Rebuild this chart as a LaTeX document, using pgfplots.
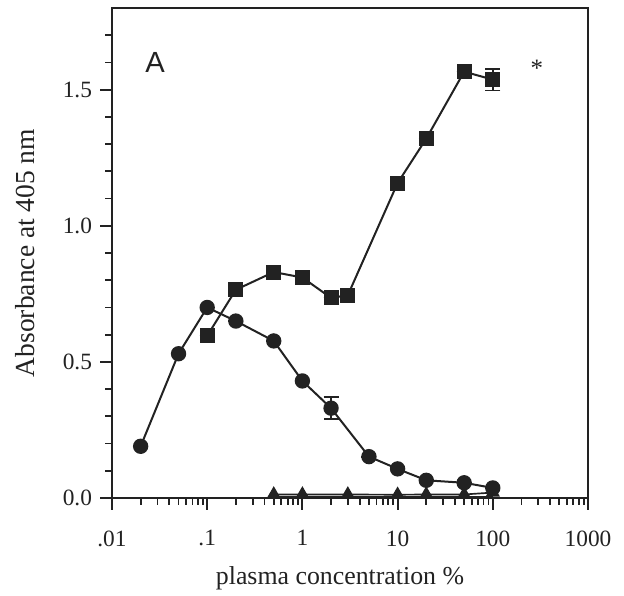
\documentclass[border=0pt]{standalone}
\usepackage{pgfplots}
\pgfplotsset{compat=1.18}
\usepackage{fontspec}
\setmainfont{Liberation Serif}
\newfontfamily\panelfont{Liberation Sans}
\definecolor{ink}{HTML}{222222}

\begin{document}
\begin{tikzpicture}
\begin{axis}[
    scale only axis,
    width=285.6pt, height=294pt,
    xmode=log,
    xmin=0.01, xmax=1000,
    ymin=0, ymax=1.8,
    xtick={0.01,0.1,1,10,100,1000},
    xticklabels={.01,.1,1,10,100,1000},
    minor xtick={0.02,0.03,0.04,0.05,0.06,0.07,0.08,0.09,
                 0.2,0.3,0.4,0.5,0.6,0.7,0.8,0.9,
                 2,3,4,5,6,7,8,9,20,30,40,50,60,70,80,90,
                 200,300,400,500,600,700,800,900},
    ytick={0,0.5,1,1.5},
    yticklabels={0.0,0.5,1.0,1.5},
    minor ytick={0.1,0.2,0.3,0.4,0.6,0.7,0.8,0.9,1.1,1.2,1.3,1.4,1.6,1.7},
    tick align=outside,
    tick pos=left,
    major tick length=7pt,
    minor tick length=4pt,
    every tick/.style={ink, line width=1.1pt},
    axis line style={ink, line width=1.2pt},
    ticklabel style={font=\fontsize{14}{16}\selectfont, text=ink},
    xticklabel style={yshift=-9pt},
    yticklabel style={xshift=-1.5pt},
    xlabel={plasma concentration \%},
    ylabel={Absorbance at 405 nm},
    every axis x label/.style={at={(axis description cs:0.479,-0.163)}, anchor=center,
        font=\fontsize{15.5}{18}\selectfont, text=ink},
    every axis y label/.style={at={(axis description cs:-0.183,0.5)}, anchor=center, rotate=90,
        font=\fontsize{16.5}{19}\selectfont, text=ink},
    clip=false,
    every axis plot/.append style={ink, line width=1.2pt},
]

% circles
\addplot[mark=*, mark size=4pt, mark options={fill=ink, draw=ink},
    error bars/.cd, y dir=both, y explicit,
    error bar style={line width=1.1pt},
    error mark options={rotate=90, mark size=4.5pt, line width=1.1pt}]
coordinates {
    (0.02,0.19) +- (0,0)
    (0.05,0.53) +- (0,0)
    (0.1,0.70)  +- (0,0)
    (0.2,0.65)  +- (0,0)
    (0.5,0.577) +- (0,0)
    (1,0.43)    +- (0,0)
    (2,0.33)    +- (0,0.04)
    (5,0.152)   +- (0,0)
    (10,0.107)  +- (0,0)
    (20,0.065)  +- (0,0)
    (50,0.056)  +- (0,0)
    (100,0.037) +- (0,0)
};

% squares
\addplot[mark=square*, mark size=3.9pt, mark options={fill=ink, draw=ink},
    error bars/.cd, y dir=both, y explicit,
    error bar style={line width=1.1pt},
    error mark options={rotate=90, mark size=4.5pt, line width=1.1pt}]
coordinates {
    (0.1,0.596) +- (0,0)
    (0.2,0.765) +- (0,0)
    (0.5,0.83)  +- (0,0)
    (1,0.81)    +- (0,0)
    (2,0.735)   +- (0,0)
    (3,0.745)   +- (0,0)
    (10,1.157)  +- (0,0)
    (20,1.32)   +- (0,0)
    (50,1.566)  +- (0,0)
    (100,1.537) +- (0,0.04)
};

% lower flat line
\addplot[mark=none, line width=1.0pt] coordinates {
    (0.5,0.004)(1,0.004)(3,0.004)(10,0.004)(20,0.004)(50,0.004)(100,0.004)
};

% triangles
\addplot[mark=triangle*, mark size=4pt, mark options={fill=ink, draw=ink}, line width=1.0pt]
coordinates {
    (0.5,0.013)(1,0.013)(3,0.013)(10,0.012)(20,0.013)(50,0.013)(100,0.02)
};

\node[font=\panelfont\fontsize{17.5}{20}\selectfont, text=ink] at (axis cs:0.0283,1.60) {A};
\node[font=\fontsize{15}{18}\selectfont, text=ink] at (axis cs:291,1.58) {*};

\coordinate (o) at (rel axis cs:0,0);
\end{axis}
\pgfresetboundingbox
\path[use as bounding box] (o) ++(-67.2pt,-58.2pt) rectangle ++(374.4pt,357pt);
\end{tikzpicture}
\end{document}
